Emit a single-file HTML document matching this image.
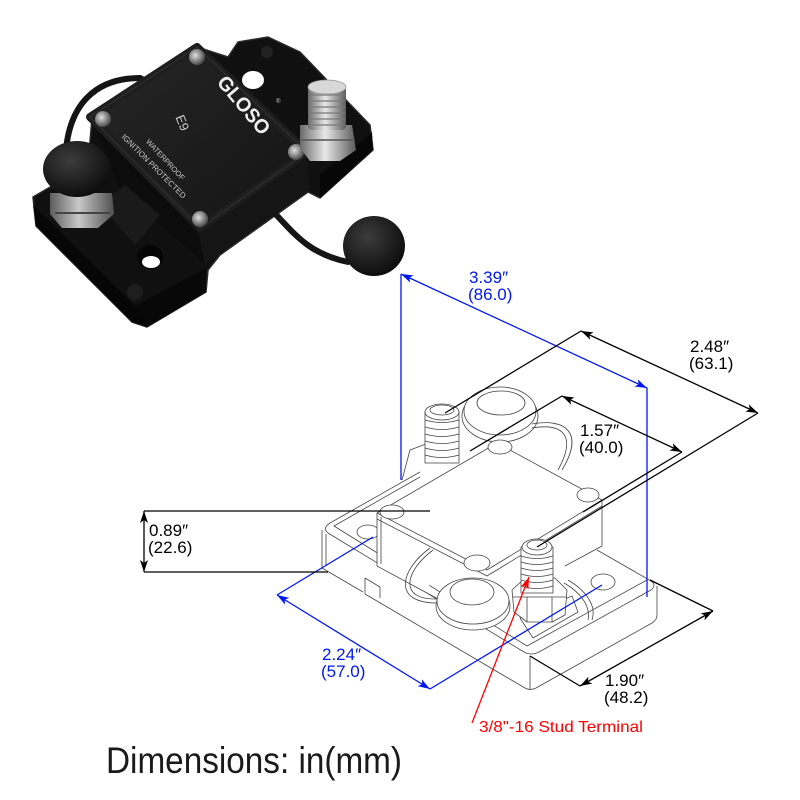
<!DOCTYPE html>
<html><head><meta charset="utf-8"><style>
html,body{margin:0;padding:0;background:#fff;}
svg{display:block}
</style></head><body>
<svg width="800" height="800" viewBox="0 0 800 800" xmlns="http://www.w3.org/2000/svg" font-family="'Liberation Sans', Arial, sans-serif">
<defs>
<radialGradient id="cap" cx="0.4" cy="0.35" r="0.7"><stop offset="0" stop-color="#3c3c3c"/><stop offset="1" stop-color="#0a0a0a"/></radialGradient>
<linearGradient id="silver" x1="0" y1="0" x2="1" y2="0"><stop offset="0" stop-color="#6a6a6a"/><stop offset="0.45" stop-color="#e8e8e8"/><stop offset="1" stop-color="#5a5a5a"/></linearGradient>
<radialGradient id="screw" cx="0.4" cy="0.4" r="0.6"><stop offset="0" stop-color="#e0e0e0"/><stop offset="1" stop-color="#4a4a4a"/></radialGradient>
<linearGradient id="coverg" x1="0" y1="0" x2="1" y2="1"><stop offset="0" stop-color="#262626"/><stop offset="1" stop-color="#141414"/></linearGradient>
<marker id="ak" viewBox="0 0 12 8" refX="12" refY="4" markerWidth="12" markerHeight="8" orient="auto-start-reverse" markerUnits="userSpaceOnUse"><path d="M0,0 L12,4 L0,8 L3,4 z" fill="#000"/></marker>
<marker id="ab" viewBox="0 0 12 8" refX="12" refY="4" markerWidth="12" markerHeight="8" orient="auto-start-reverse" markerUnits="userSpaceOnUse"><path d="M0,0 L12,4 L0,8 L3,4 z" fill="#0018f0"/></marker>
<marker id="ar" viewBox="0 0 12 8" refX="12" refY="4" markerWidth="12" markerHeight="8" orient="auto-start-reverse" markerUnits="userSpaceOnUse"><path d="M0,0 L12,4 L0,8 L3,4 z" fill="#f00"/></marker>
</defs>

<!-- ================= PHOTO ================= -->
<g>
  <path d="M33,197 L88,165 L92,118 L197,47 L228,57 L238,42 L268,37 L300,52 L370,125 L373,150 L320,198 L308,192 L220,255 L208,270 L206,292 L147,327 L132,322 L36,226 Z" fill="#101010" stroke="#2a2a2a" stroke-width="1.5" stroke-linejoin="round"/>
  <path d="M33,205 L135,306 L147,327 L132,322 L36,226 Z" fill="#060606"/>
  <path d="M135,306 L206,268 L206,292 L147,327 Z" fill="#080808"/>
  <path d="M320,175 L372,132 L373,150 L320,198 Z" fill="#070707"/>
  <ellipse cx="253" cy="80" rx="11" ry="9" fill="#fff"/>
  <ellipse cx="150" cy="257" rx="13" ry="12" fill="#050505"/>
  <ellipse cx="151" cy="262" rx="9" ry="6" fill="#fff"/>
  <circle cx="267" cy="52" r="6" fill="#222"/>
  <circle cx="135" cy="292" r="8" fill="#1e1e1e"/>
  <path d="M66,150 C70,105 95,78 140,78 L160,88" fill="none" stroke="#141414" stroke-width="6" stroke-linecap="round"/>
  <path d="M197,227 L307,153 L310,190 L205,264 Z" fill="#151515"/>
  <path d="M92,118 L197,227 L205,264 L120,190 Z" fill="#0c0c0c"/>
  <path d="M100,205 L125,185 L160,215 L135,245 Z" fill="#1a1a1a"/>
  <path d="M197,47 L307,152 L200,228 L90,117 Z" fill="url(#coverg)" stroke="#1e1e1e" stroke-width="8" stroke-linejoin="round"/>
  <path d="M197,47 L307,152 L200,228 L90,117 Z" fill="none" stroke="#333" stroke-width="1"/>
  <circle cx="197" cy="57" r="8" fill="url(#screw)"/>
  <circle cx="103" cy="119" r="8" fill="url(#screw)"/>
  <circle cx="296" cy="152" r="8" fill="url(#screw)"/>
  <circle cx="200" cy="219" r="8" fill="url(#screw)"/>
  <text x="244" y="112" transform="rotate(50 244 105)" font-weight="bold" font-size="20" fill="#f0f0f0" text-anchor="middle" textLength="70" lengthAdjust="spacingAndGlyphs">GLOSO</text>
  <text x="276" y="103" font-size="6" fill="#ccc">®</text>
  <text x="182" y="127" transform="rotate(68 182 123)" font-size="13" fill="#c8c8c8" text-anchor="middle">E9</text>
  <text x="165" y="162" transform="rotate(47 165 160)" font-size="7.5" fill="#c8c8c8" text-anchor="middle">WATERPROOF</text>
  <text x="154" y="169" transform="rotate(45 154 166)" font-size="8" fill="#c8c8c8" text-anchor="middle">IGNITION PROTECTED</text>
  <path d="M50,193 L112,193 L114,214 L98,228 L62,228 L50,214 Z" fill="url(#silver)" opacity="0.85"/>
  <path d="M55,213 L110,213" stroke="#444" stroke-width="2"/>
  <ellipse cx="77" cy="169" rx="34" ry="28" fill="url(#cap)"/>
  <path d="M300,125 L352,125 L356,150 L340,161 L310,161 L300,148 Z" fill="url(#silver)"/>
  <path d="M301,140 L355,140" stroke="#555" stroke-width="1.5"/>
  <rect x="308" y="85" width="38" height="45" rx="4" fill="url(#silver)"/>
  <g stroke="#7a7a7a" stroke-width="1.2">
    <path d="M309,95 L345,95 M309,101 L345,101 M309,107 L345,107 M309,113 L345,113 M309,119 L345,119 M309,125 L345,125"/>
  </g>
  <ellipse cx="327" cy="87" rx="19" ry="7" fill="#d8d8d8" stroke="#999" stroke-width="0.8"/>
  <path d="M258,197 C290,225 300,252 348,262" fill="none" stroke="#161616" stroke-width="6" stroke-linecap="round"/>
  <ellipse cx="374" cy="246" rx="31" ry="30" fill="url(#cap)"/>
</g>

<!-- ================= LINE DRAWING ================= -->
<g fill="none" stroke="#444" stroke-width="0.8" stroke-linejoin="round">
  <path d="M420,472 L330,523 Q322,528 328,533 L524,652 Q531,656 539,652 L651,590 Q657,585 651,581 L597,550" fill="#fff"/>
  <path d="M420,477 L334,526 L527,646 L647,580"/>
  <path d="M322,530 L322,568 L363,592 M365,578 L365,594 M365,594 L525,688 Q530,691 536,688 L652,623 Q657,620 657,615 L657,586"/>
  <path d="M530,656 L530,690 M326,566 L326,534"/>
  <path d="M365,578 L380,587 L380,598"/>
  <ellipse cx="368" cy="532" rx="11" ry="7"/>
  <ellipse cx="603" cy="582" rx="12" ry="8"/>
  <path d="M402,480 L410,450 L426,444 L426,458"/>
  <ellipse cx="500" cy="416" rx="38" ry="26" fill="#fff"/>
  <ellipse cx="500" cy="411" rx="36" ry="24" fill="#fff"/>
  <ellipse cx="501" cy="403" rx="24" ry="12"/>
  <path d="M532,424 C565,418 585,432 562,470"/>
  <path d="M532,428 C561,423 578,434 558,470"/>
  <rect x="425" y="412" width="34" height="51" fill="#fff"/>
  <path d="M425,420 Q442,425 459,420 M425,427 Q442,432 459,427 M425,434 Q442,439 459,434 M425,441 Q442,446 459,441 M425,448 Q442,453 459,448 M425,455 Q442,460 459,455"/>
  <ellipse cx="442" cy="412" rx="17" ry="8" fill="#fff"/>
  <ellipse cx="442" cy="410" rx="12" ry="5"/>
  <path d="M377,513 L377,566 L440,600 M602,500 L602,546 L565,566" fill="#fff"/>
  <path d="M377,513 L497,443 L602,500 L487,570 Z" fill="#fff"/>
  <path d="M377,519 L487,576 L602,506"/>
  <path d="M381,517 L381,564"/>
  <ellipse cx="392" cy="512" rx="12" ry="7" fill="#fff"/>
  <ellipse cx="500" cy="447" rx="12" ry="7" fill="#fff"/>
  <ellipse cx="588" cy="495" rx="11" ry="7" fill="#fff"/>
  <ellipse cx="477" cy="563" rx="13" ry="8" fill="#fff"/>
  <path d="M430,548 C400,570 392,603 437,603"/>
  <path d="M433,550 C405,571 398,600 437,599"/>
  <ellipse cx="473" cy="606" rx="37" ry="24" fill="#fff"/>
  <ellipse cx="473" cy="601" rx="36" ry="23" fill="#fff"/>
  <ellipse cx="472" cy="592" rx="22" ry="13"/>
  <path d="M520,618 L572,596 L578,612 L533,638 Z" fill="#fff"/>
  <path d="M568,580 C585,590 597,605 592,620"/>
  <path d="M564,583 C580,592 591,606 588,620"/>
  <path d="M512,590 L525,578 L555,578 L567,590 L565,615 L552,622 L527,622 L514,612 Z" fill="#fff"/>
  <path d="M513,597 L566,597 M527,597 L527,622 M552,597 L552,622"/>
  <rect x="521" y="547" width="32" height="46" fill="#fff"/>
  <path d="M521,556 Q537,561 553,556 M521,562 Q537,567 553,562 M521,568 Q537,573 553,568 M521,574 Q537,579 553,574 M521,580 Q537,585 553,580 M521,586 Q537,591 553,586"/>
  <ellipse cx="537" cy="547" rx="15" ry="8" fill="#fff"/>
  <ellipse cx="537" cy="545" rx="10" ry="5"/>
</g>

<!-- ================= DIMENSIONS ================= -->
<g fill="none" stroke-width="1.3">
  <path d="M401,480 L401,274 M647,388 L647,597" stroke="#0018f0"/>
  <path d="M401,274 L647,388" stroke="#0018f0" marker-start="url(#ab)" marker-end="url(#ab)"/>
  <path d="M373,537 L277,595 M430,689 L602,585" stroke="#0018f0"/>
  <path d="M277,595 L430,689" stroke="#0018f0" marker-start="url(#ab)" marker-end="url(#ab)"/>
  <path d="M445,413 L581,331 M758,413 L537,547" stroke="#000"/>
  <path d="M581,331 L758,413" stroke="#000" marker-start="url(#ak)" marker-end="url(#ak)"/>
  <path d="M470,451 L562,396 M682,452 L583,512" stroke="#000"/>
  <path d="M562,396 L682,452" stroke="#000" marker-start="url(#ak)" marker-end="url(#ak)"/>
  <path d="M144,511 L430,511 M144,572 L328,572" stroke="#000"/>
  <path d="M144,511 L144,572" stroke="#000" marker-start="url(#ak)" marker-end="url(#ak)"/>
  <path d="M580,686 L530,656 M713,611 L650,580" stroke="#000"/>
  <path d="M580,686 L713,611" stroke="#000" marker-start="url(#ak)" marker-end="url(#ak)"/>
  <path d="M472,723 L529,577" stroke="#f00" marker-end="url(#ar)"/>
</g>

<g font-size="17">
  <text x="469" y="283" fill="#0018f0">3.39″</text>
  <text x="468" y="300" fill="#0018f0">(86.0)</text>
  <text x="690" y="352" fill="#000">2.48″</text>
  <text x="689" y="369" fill="#000">(63.1)</text>
  <text x="580" y="436" fill="#000">1.57″</text>
  <text x="579" y="453" fill="#000">(40.0)</text>
  <text x="149" y="536" fill="#000">0.89″</text>
  <text x="148" y="553" fill="#000">(22.6)</text>
  <text x="322" y="660" fill="#0018f0">2.24″</text>
  <text x="321" y="677" fill="#0018f0">(57.0)</text>
  <text x="605" y="686" fill="#000">1.90″</text>
  <text x="604" y="703" fill="#000">(48.2)</text>
</g>
<text x="479" y="732" font-size="16" fill="#f00" textLength="164" lengthAdjust="spacingAndGlyphs">3/8"-16 Stud Terminal</text>
<text x="106" y="773" font-size="37" fill="#1a1a1a" textLength="296" lengthAdjust="spacingAndGlyphs">Dimensions: in(mm)</text>
</svg>
</body></html>
